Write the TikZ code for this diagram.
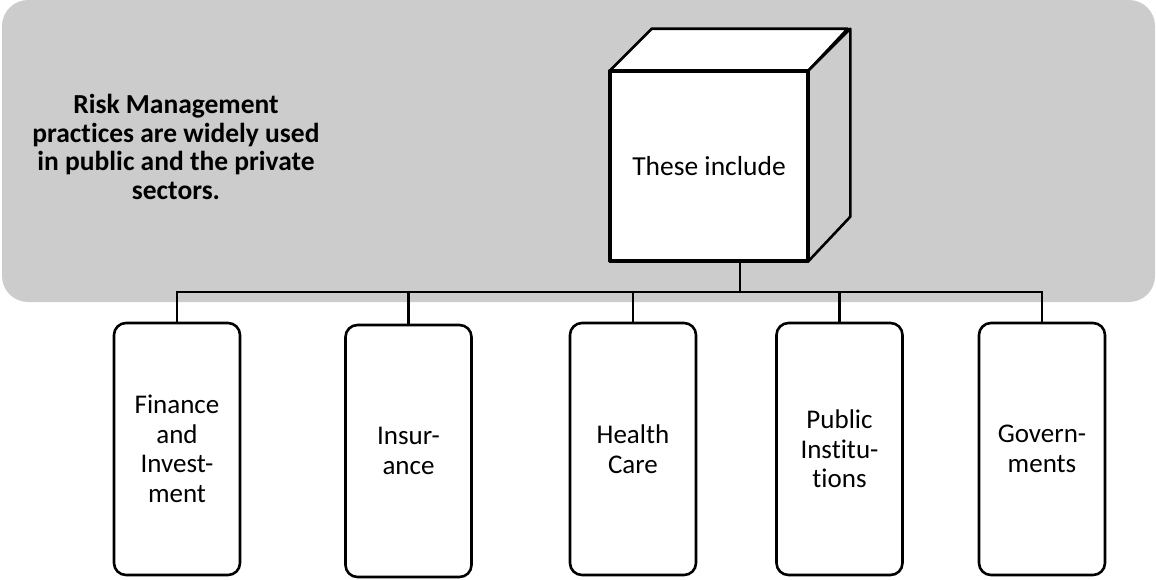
\documentclass[tikz,border=0pt]{standalone}
\usepackage{fontspec}
\setmainfont{Carlito}[Ligatures=NoCommon]
\definecolor{panelgray}{RGB}{204,204,204}
\begin{document}
\begin{tikzpicture}[x=1pt,y=-1pt,
  line width=2.6pt,
  sector/.style={draw=black, fill=white, rounded corners=12pt, inner sep=0pt,
    minimum width=126pt, minimum height=252pt, align=center,
    font=\fontsize{27}{29.5}\selectfont},
  front/.style={draw=black, fill=white, inner sep=0pt, line join=round,
    minimum width=196pt, minimum height=188pt,
    font=\fontsize{27.5}{30}\selectfont},
  link/.style={draw=black, line width=2.6pt}]
\useasboundingbox (0,0) rectangle (1156,579);

% grey background panel
\fill[panelgray, rounded corners=26pt] (2,0) rectangle (1155,302);

% headline text
\node[align=center, font=\bfseries\fontsize{27.5}{28.7}\selectfont] (intro) at (176,147)
  {Risk Management\\practices are widely used\\in public and the private\\sectors.};

% cube: front face as a node, top and side faces from its corners
\node[front] (cube) at (709,166) {These include};
\draw[fill=white, line join=round] (cube.north west) -- ++(42,-42) -- ++(196,0) -- (cube.north east) -- cycle;
\draw[fill=panelgray, line join=round] (cube.north east) -- ++(42,-42) -- ++(0,188) -- (cube.south east) -- cycle;
\draw[line join=round] (cube.north west) rectangle (cube.south east);

% sectors
\node[sector] (fin) at (177,449) {Finance\\and\\Invest-\\ment};
\node[sector] (ins) at (408.5,451) {Insur-\\ance};
\node[sector] (hc)  at (633,449) {Health\\Care};
\node[sector] (pub) at (839.5,449) {Public\\Institu-\\tions};
\node[sector] (gov) at (1042,449) {Govern-\\ments};

% organisation-chart connectors
\coordinate (drop) at ([xshift=31pt]cube.south);
\coordinate (bus) at (drop |- 0,292);
\draw[link] (drop) -- (bus);
\draw[link] (fin.north) |- (bus) -| (gov.north);
\draw[link] (ins.north) -- (ins.north |- bus);
\draw[link] (hc.north) -- (hc.north |- bus);
\draw[link] (pub.north) -- (pub.north |- bus);
\end{tikzpicture}
\end{document}
